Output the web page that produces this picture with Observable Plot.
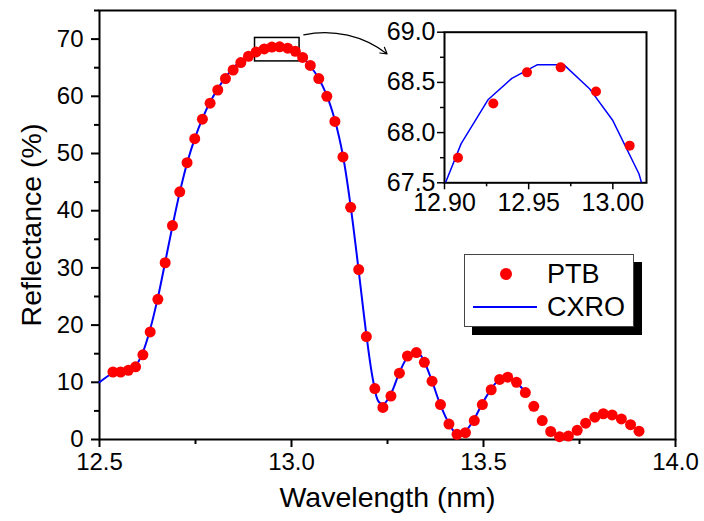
<!DOCTYPE html>
<html><head><meta charset="utf-8">
<script src="https://cdn.jsdelivr.net/npm/d3@7"></script>
<script src="https://cdn.jsdelivr.net/npm/@observablehq/plot@0.6"></script>
<style>
body{margin:0;background:#fff;}
#wrap{position:relative;width:704px;height:521px;font-family:"Liberation Sans",Arial,sans-serif;}
#main{position:absolute;left:0;top:0;}
#inset{position:absolute;left:380px;top:10px;}
#legend{position:absolute;left:464px;top:254px;width:168px;height:71px;background:#fff;border:1px solid #444;box-shadow:8px 8px 0 #000;}
</style></head><body><div id="wrap"><div id="main"></div><div id="inset"></div><div id="legend"></div></div>
<script>
// PTB measurement (dots)
const ptbX = [12.535,12.555,12.575,12.594,12.613,12.632,12.652,12.671,12.690,12.709,
  12.728,12.748,12.768,12.788,12.808,12.828,12.848,12.868,12.888,12.908,
  12.929,12.949,12.969,12.990,13.010,13.029,13.049,13.071,13.092,13.113,
  13.134,13.154,13.175,13.195,13.217,13.238,13.259,13.281,13.302,13.325,
  13.346,13.366,13.388,13.410,13.431,13.453,13.476,13.497,13.520,13.542,
  13.563,13.586,13.609,13.631,13.653,13.675,13.698,13.721,13.744,13.766,
  13.790,13.812,13.835,13.859,13.883,13.905];
const ptbY = [11.8,11.8,12.1,12.7,14.8,18.8,24.5,30.9,37.4,43.3,
  48.4,52.6,56.0,58.8,61.1,63.1,64.6,65.9,67.0,67.75,
  68.29,68.60,68.65,68.41,67.87,66.8,65.4,63.1,60.0,55.6,
  49.4,40.6,29.7,18.0,8.9,5.6,7.6,11.6,14.6,15.2,
  13.5,10.2,6.1,2.7,0.9,1.2,3.3,6.1,8.7,10.5,
  10.9,10.0,8.2,5.8,3.3,1.4,0.5,0.6,1.6,2.85,
  3.9,4.5,4.3,3.6,2.6,1.45];
// CXRO calculation (line)
const cxroX = [12.500,12.535,12.555,12.575,12.594,12.613,12.632,12.652,12.671,12.690,
  12.709,12.728,12.748,12.768,12.788,12.808,12.828,12.848,12.868,12.8946,
  12.9099,12.926,12.940,12.955,12.971,12.986,13.000,13.0155,13.031,13.049,
  13.071,13.092,13.113,13.134,13.154,13.175,13.195,13.212,13.227,13.240,
  13.259,13.281,13.302,13.318,13.335,13.346,13.366,13.388,13.410,13.425,
  13.440,13.453,13.476,13.497,13.520,13.540,13.563,13.586,13.609];
const cxroY = [10.0,11.6,11.9,12.3,12.9,15.3,19.3,24.8,31.0,37.3,
  43.2,48.3,52.6,56.1,59.0,61.3,63.3,64.9,66.2,67.25,
  67.89,68.33,68.54,68.675,68.675,68.44,68.12,67.59,66.7,65.3,
  63.1,60.1,55.8,49.6,40.8,29.5,18.3,10.5,6.6,6.2,
  8.0,11.7,14.4,15.2,14.8,13.6,10.2,6.0,2.8,1.3,
  1.0,1.4,3.6,6.3,8.8,10.4,10.7,9.9,8.3];
const seriesNames = ["PTB", "CXRO"];
const xLabel = "Wavelength (nm)";
const yLabel = "Reflectance (%)";
const xTicks = [12.5, 13.0, 13.5, 14.0];
const xMinor = [12.75, 13.25, 13.75];
const yTicks = [0, 10, 20, 30, 40, 50, 60, 70];
const yMinor = [5, 15, 25, 35, 45, 55, 65, 75];
const insetXTicks = [12.90, 12.95, 13.00];
const insetXMinor = [12.925, 12.975];
const insetYTicks = [67.5, 68.0, 68.5, 69.0];
const insetYMinor = [67.75, 68.25, 68.75];
const zoomBoxX = [12.905, 13.021];
const zoomBoxY = [66.1, 70.2];
const arrowX = [13.032, 13.249];
const arrowY = [70.75, 67.4];

const ptb = ptbX.map((x, i) => ({x, y: ptbY[i]}));
const cxro = cxroX.map((x, i) => ({x, y: cxroY[i]}));
const FONT = "Liberation Sans, Arial, sans-serif";
const RED = "#ff0000", BLUE = "#0000ff";

const main = Plot.plot({
  width: 704, height: 521,
  marginLeft: 99, marginRight: 29, marginTop: 10, marginBottom: 82,
  x: {domain: [12.5, 14.0]},
  y: {domain: [0, 75]},
  style: {fontFamily: FONT, fontSize: "24px", color: "#000", background: "transparent"},
  marks: [
    Plot.axisX(xTicks, {tickSize: 8, tickPadding: 5, strokeWidth: 2, tickFormat: d => d.toFixed(1), label: null}),
    Plot.axisX(xMinor, {tickSize: 5, strokeWidth: 2, tickFormat: () => "", label: null}),
    Plot.axisY(yTicks, {tickSize: 8, tickPadding: 8, strokeWidth: 2, tickFormat: d => String(d), label: null}),
    Plot.axisY(yMinor, {tickSize: 5, strokeWidth: 2, tickFormat: () => "", label: null}),
    Plot.axisX([], {tickSize: 0, label: xLabel, labelAnchor: "center", labelArrow: "none", labelOffset: 67, fontSize: 28.5}),
    Plot.axisY([], {tickSize: 0, label: yLabel, labelAnchor: "center", labelArrow: "none", labelOffset: 79, fontSize: 28.5}),
    Plot.frame({stroke: "#000", strokeWidth: 2}),
    Plot.rect([0], {x1: () => zoomBoxX[0], x2: () => zoomBoxX[1], y1: () => zoomBoxY[0], y2: () => zoomBoxY[1], fill: "none", stroke: "#000", strokeWidth: 1.5}),
    Plot.arrow([0], {x1: () => arrowX[0], y1: () => arrowY[0], x2: () => arrowX[1], y2: () => arrowY[1], bend: 25, headLength: 9, strokeWidth: 1.2, stroke: "#000"}),
    Plot.line(cxro, {x: "x", y: "y", stroke: BLUE, strokeWidth: 2, curve: "catmull-rom"}),
    Plot.dot(ptb, {x: "x", y: "y", r: 5.5, fill: RED, stroke: "none"})
  ]
});
document.getElementById("main").appendChild(main);

const inset = Plot.plot({
  width: 290, height: 220,
  marginLeft: 64, marginRight: 24, marginTop: 21.7, marginBottom: 47.7,
  x: {domain: [12.90, 13.02]},
  y: {domain: [67.5, 69.0]},
  style: {fontFamily: FONT, fontSize: "25px", color: "#000", background: "transparent"},
  marks: [
    Plot.axisX(insetXTicks, {tickSize: 7, tickPadding: 3, strokeWidth: 1.5, tickFormat: d => d.toFixed(2), label: null}),
    Plot.axisX(insetXMinor, {tickSize: 4, strokeWidth: 1.5, tickFormat: () => "", label: null}),
    Plot.axisY(insetYTicks, {tickSize: 7, tickPadding: 2, strokeWidth: 1.5, tickFormat: d => d.toFixed(1), label: null}),
    Plot.axisY(insetYMinor, {tickSize: 4, strokeWidth: 1.5, tickFormat: () => "", label: null}),
    Plot.frame({stroke: "#000", strokeWidth: 2}),
    Plot.line(cxro, {x: "x", y: "y", stroke: BLUE, strokeWidth: 1.5, clip: true}),
    Plot.dot(ptb, {x: "x", y: "y", r: 5, fill: RED, stroke: "none", clip: true})
  ]
});
document.getElementById("inset").appendChild(inset);

// legend
const lg = d3.select("#legend").append("svg").attr("width", 168).attr("height", 71)
  .style("font-family", FONT).style("display", "block");
lg.append("circle").attr("cx", 41).attr("cy", 19).attr("r", 6).attr("fill", RED);
lg.append("line").attr("x1", 8).attr("x2", 72).attr("y1", 52).attr("y2", 52).attr("stroke", BLUE).attr("stroke-width", 2);
seriesNames.forEach((s, i) => {
  lg.append("text").attr("x", 82).attr("y", i === 0 ? 19 : 52).attr("dy", "0.35em")
    .attr("font-size", 27).attr("fill", "#000").text(s);
});
</script>
</body></html>
